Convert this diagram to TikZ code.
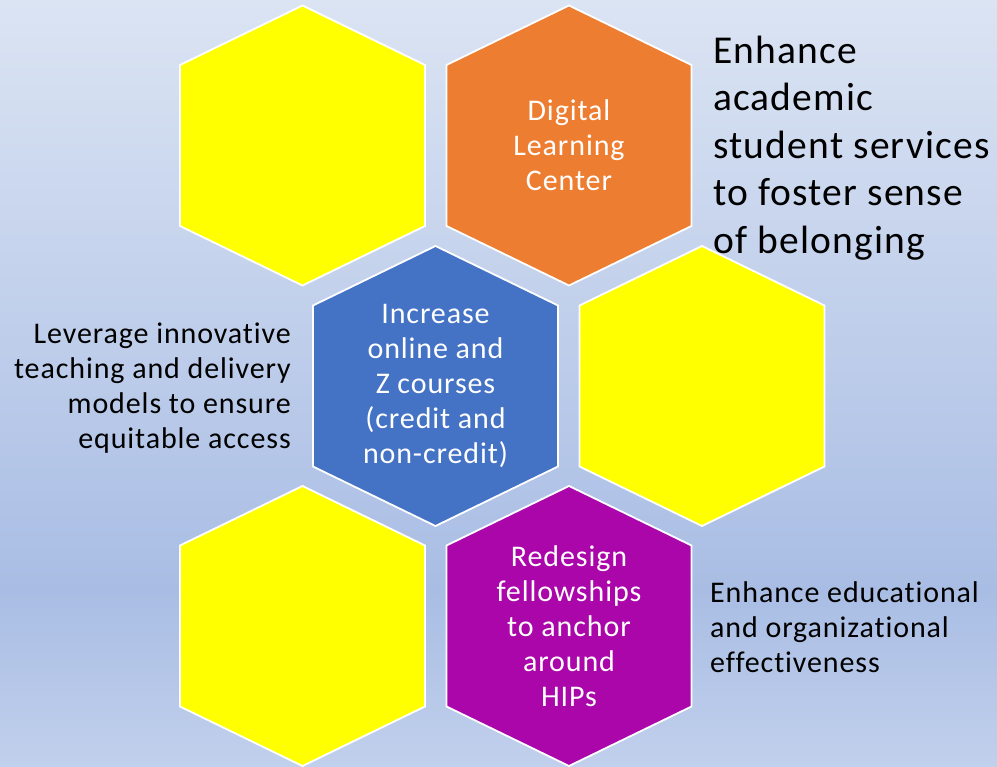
\documentclass[tikz,border=0pt]{standalone}
\usepackage{fontspec}
\setmainfont{Carlito}[Ligatures=NoCommon, LetterSpace=3]
\definecolor{bgtop}{HTML}{DBE4F3}
\definecolor{bgmid}{HTML}{A9BDE4}
\definecolor{bgbot}{HTML}{C1D0EC}
\definecolor{hexyellow}{HTML}{FFFF00}
\definecolor{hexorange}{HTML}{ED7D31}
\definecolor{hexblue}{HTML}{4472C4}
\definecolor{hexpurple}{HTML}{AA06AA}
\begin{document}
\begin{tikzpicture}[x=1pt,y=-1pt,
  pics/hexcell/.style={code={
    \fill[#1] (0,-140) -- (122.5,-80.5) -- (122.5,80.5) -- (0,140)
      -- (-122.5,80.5) -- (-122.5,-80.5) -- cycle;
    \draw[white, line width=1.8pt, line join=miter]
      (0,-140) -- (122.5,-80.5) -- (122.5,80.5) -- (0,140)
      -- (-122.5,80.5) -- (-122.5,-80.5) -- cycle;
  }},
  hextext/.style={align=center, text=white, inner sep=0pt,
    font=\fontsize{30}{35}\selectfont},
  sidetext/.style={inner sep=0pt, text=black,
    font=\fontsize{30}{35}\selectfont},
  bigtext/.style={inner sep=0pt, text=black, align=left,
    font=\fontsize{39.5}{47.5}\selectfont}]
\useasboundingbox (0,0) rectangle (997,767);

% background gradient
\shade[top color=bgtop, bottom color=bgmid] (0,0) rectangle (997,590);
\shade[top color=bgmid, bottom color=bgbot] (0,589.5) rectangle (997,767);

% honeycomb cells
\coordinate (c11) at (302.5,145.5);
\coordinate (c12) at (569,145.5);
\coordinate (c21) at (435.5,386);
\coordinate (c22) at (702,386);
\coordinate (c31) at (302.5,626);
\coordinate (c32) at (569,626);

\pic at (c11) {hexcell=hexyellow};
\pic at (c12) {hexcell=hexorange};
\pic at (c21) {hexcell=hexblue};
\pic at (c22) {hexcell=hexyellow};
\pic at (c31) {hexcell=hexyellow};
\pic at (c32) {hexcell=hexpurple};

% labels inside the cells
\node[hextext] (dlc) at (569,145) {Digital\\Learning\\Center};
\node[hextext] (online) at (435.5,385.5) {Increase\\online and\\Z courses\\(credit and\\non-credit)};
\node[hextext] (fellow) at (569,626) {Redesign\\fellowships\\to anchor\\around\\HIPs};

% goal statements
\node[bigtext, anchor=west] (goalA) at (713,148) {Enhance\\academic\\student services\\to foster sense\\of belonging};
\node[sidetext, align=right, anchor=east] (goalB) at (291,388) {Leverage innovative\\teaching and delivery\\models to ensure\\equitable access};
\node[sidetext, align=left, anchor=west] (goalC) at (710,627) {Enhance educational\\and organizational\\effectiveness};
\end{tikzpicture}
\end{document}
